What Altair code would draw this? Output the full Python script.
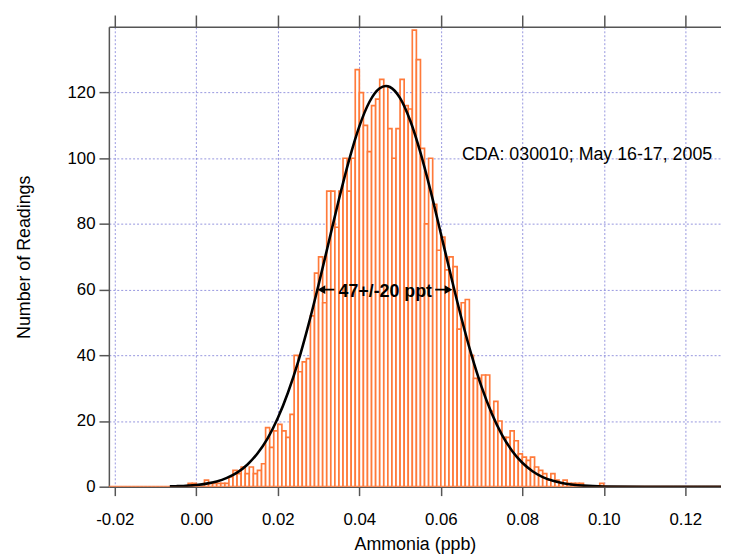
import altair as alt
import pandas as pd

# ---------------- data ----------------
bin_width = 0.001
first_bin = -2  # index of first non-zero-region bin (bin k covers [k*0.001, (k+1)*0.001])
counts = [1, 1, 0, 0, 2, 1, 1, 1, 1, 1, 3, 5, 4, 6, 4, 6, 4, 5, 7, 18,
          12, 17, 19, 17, 15, 22, 40, 35, 38, 39, 52, 65, 70, 56, 90, 90, 79, 90, 100, 90,
          100, 127, 120, 110, 102, 116, 118, 124, 122, 109, 100, 109, 124, 116, 115, 139, 130, 103, 80, 100,
          86, 72, 76, 66, 70, 67, 48, 56, 57, 40, 33, 33, 34, 34, 23, 26, 20, 15, 15, 17,
          14, 10, 9, 8, 9, 6, 5, 4, 2, 4, 2, 1, 2, 1, 1, 1, 1, 0, 0, 0,
          0, 1, 0]
zero_bins_left = 20    # empty bins from -0.022 up to -0.002
zero_bins_right = 28   # empty bins from 0.101 up to 0.129

curve_x = [-0.0065, -0.005, 0.0, 0.0025, 0.005, 0.0075, 0.01, 0.0125, 0.015, 0.0175,
           0.02, 0.0225, 0.025, 0.0275, 0.03, 0.0325, 0.035, 0.0375, 0.04, 0.0425,
           0.045, 0.0465, 0.0475, 0.05, 0.0525, 0.055, 0.0575, 0.06, 0.0625, 0.065,
           0.0675, 0.07, 0.0725, 0.075, 0.0775, 0.08, 0.0825, 0.085, 0.0875, 0.09,
           0.0925, 0.095, 0.1, 0.11, 0.13]
curve_y = [0.1, 0.16, 0.53, 0.94, 1.6, 2.7, 4.3, 6.7, 10.1, 14.7,
           20.9, 28.7, 38.1, 49.2, 61.5, 74.5, 87.5, 99.5, 109.7, 117.2,
           121.3, 122.0, 121.7, 118.3, 111.4, 101.7, 90.0, 77.1, 64.1, 51.6,
           40.2, 30.4, 22.3, 15.8, 10.9, 7.3, 4.7, 2.9, 1.8, 1.05,
           0.6, 0.33, 0.09, 0.0, 0.0]

x_ticks = [-0.02, 0.0, 0.02, 0.04, 0.06, 0.08, 0.10, 0.12]
y_ticks = [0, 20, 40, 60, 80, 100, 120]

label_text = "CDA: 030010; May 16-17, 2005"
width_text = "47+/-20 ppt"

# ---------------- build tables ----------------
all_counts = [0] * zero_bins_left + counts + [0] * zero_bins_right
start_index = first_bin - zero_bins_left
hist = pd.DataFrame({
    "x0": [(start_index + i) * bin_width for i in range(len(all_counts))],
    "x1": [(start_index + i + 1) * bin_width for i in range(len(all_counts))],
    "n": all_counts,
})
curve = pd.DataFrame({"x": curve_x, "y": curve_y})

FONT = "Liberation Sans"
GRID = "#7b7bd6"
AX = "#555555"
ORANGE = "#ff7a3a"

xscale = alt.Scale(domain=[-0.02146, 0.12875], nice=False, zero=False)
yscale = alt.Scale(domain=[0, 140], nice=False)

x_axis = alt.Axis(values=x_ticks, format=".2f", title="Ammonia (ppb)", grid=True,
                  labelExpr="replace(datum.label, '\u2212', '-')",
                  gridColor=GRID, gridDash=[2, 2], gridWidth=1, gridOpacity=0.8,
                  tickSize=9, tickWidth=1.5, tickColor=AX, domainColor=AX, domainWidth=1.5,
                  labelFont=FONT, labelFontSize=17, labelColor="#000", labelPadding=16,
                  titleFont=FONT, titleFontSize=18, titleFontWeight="normal", titleColor="#000",
                  titlePadding=8)
y_axis = alt.Axis(values=y_ticks, title="Number of Readings", grid=True,
                  gridColor=GRID, gridDash=[2, 2], gridWidth=1, gridOpacity=0.8,
                  tickSize=10, tickWidth=1.5, tickColor=AX, domainColor=AX, domainWidth=1.5,
                  labelFont=FONT, labelFontSize=17, labelColor="#000", labelPadding=4,
                  titleFont=FONT, titleFontSize=18, titleFontWeight="normal", titleColor="#000",
                  titlePadding=34)
top_axis = alt.Axis(values=x_ticks, orient="top", labels=False, title=None, grid=False,
                    tickSize=12, tickWidth=1.5, tickColor=AX, domainColor=AX, domainWidth=1.5)

bars = alt.Chart(hist).mark_bar(fill="white", stroke=ORANGE, strokeWidth=1.7, clip=True).encode(
    x=alt.X("x0:Q", scale=xscale, axis=x_axis),
    x2="x1:Q",
    y=alt.Y("n:Q", scale=yscale, axis=y_axis),
    y2=alt.datum(0),
)

line = alt.Chart(curve).mark_line(color="black", strokeWidth=2.6, interpolate="monotone", clip=True).encode(
    x=alt.X("x:Q", scale=xscale, axis=top_axis),
    y=alt.Y("y:Q", scale=yscale, axis=y_axis),
)

note = alt.Chart(pd.DataFrame({"x": [0.06517], "y": [101.0], "t": [label_text]})).mark_text(
    font=FONT, fontSize=18, align="left", baseline="middle", color="#000"
).encode(x=alt.X("x:Q", axis=None), y=alt.Y("y:Q", axis=y_axis), text="t:N")

wtext = alt.Chart(pd.DataFrame({"x": [0.04637], "y": [59.4], "t": [width_text]})).mark_text(
    font=FONT, fontSize=18, fontWeight="bold", align="center", baseline="middle", color="#000"
).encode(x=alt.X("x:Q", axis=None), y=alt.Y("y:Q", axis=y_axis), text="t:N")

shafts = alt.Chart(pd.DataFrame({"a": [0.0305, 0.05862], "b": [0.03387, 0.0621], "y": [60, 60]})).mark_rule(
    color="black", strokeWidth=1.8
).encode(x=alt.X("a:Q", axis=None), x2="b:Q", y=alt.Y("y:Q", axis=y_axis))

heads = alt.Chart(pd.DataFrame({"x": [0.0307, 0.0619], "y": [60, 60],
                                "s": ["triangle-left", "triangle-right"]})).mark_point(
    filled=True, color="black", opacity=1, size=80
).encode(x=alt.X("x:Q", axis=None), y=alt.Y("y:Q", axis=y_axis),
         shape=alt.Shape("s:N", scale=None, legend=None))

chart = alt.layer(bars, line, shafts, heads, wtext, note).resolve_axis(x="independent").properties(
    width=619, height=465,
    padding={"left": 102, "top": 16, "right": 0, "bottom": 68},
    autosize=alt.AutoSizeParams(type="none"),
    background="white",
).configure_view(stroke=None)

chart.save("out.html", embed_options={"renderer": "svg", "actions": False})
